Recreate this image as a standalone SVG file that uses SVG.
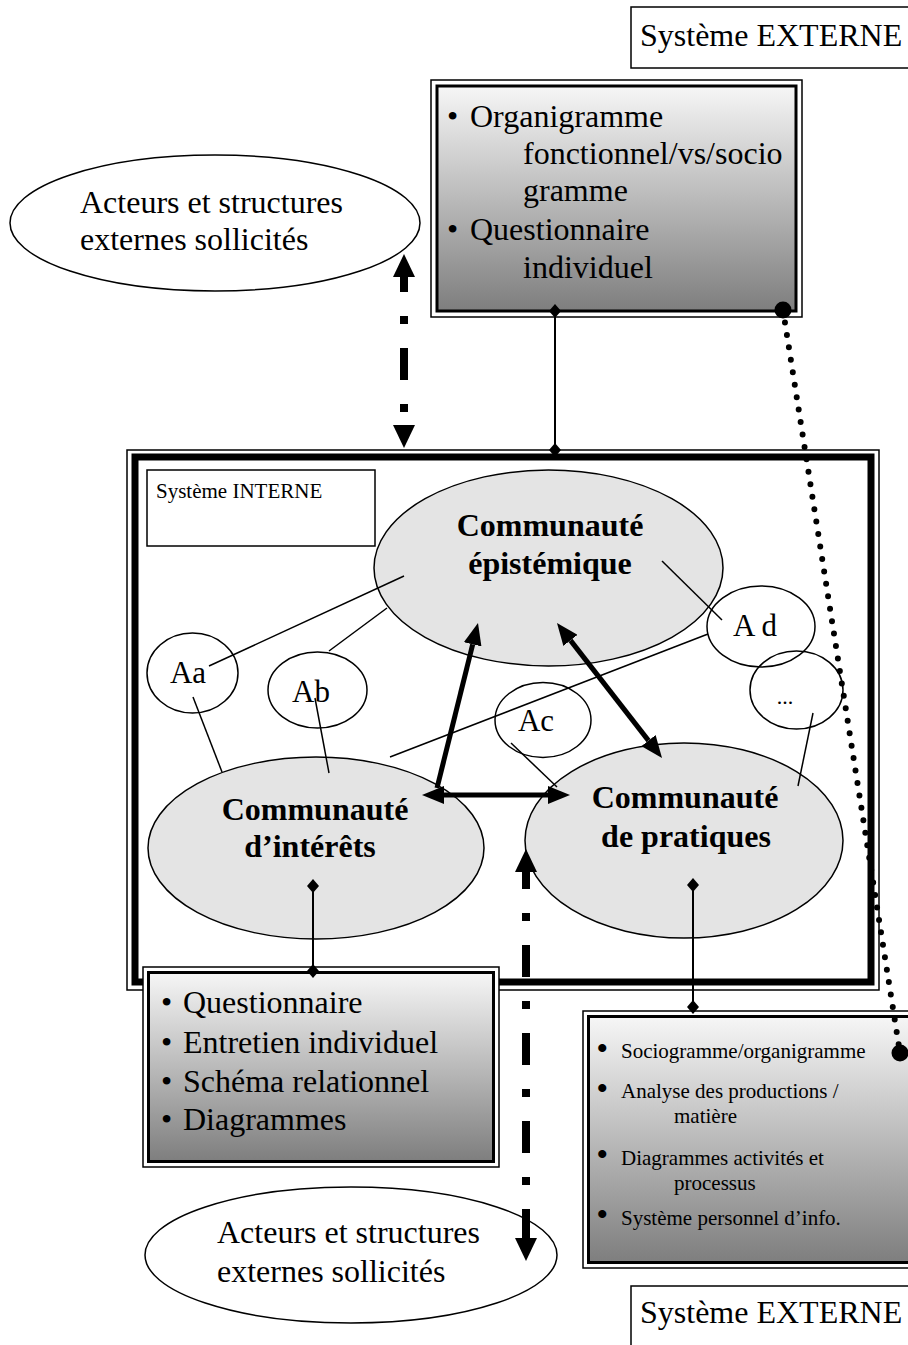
<svg xmlns="http://www.w3.org/2000/svg" width="908" height="1345" viewBox="0 0 908 1345">
<defs>
  <linearGradient id="grad" x1="0" y1="0" x2="0" y2="1">
    <stop offset="0" stop-color="#f6f6f6"/>
    <stop offset="1" stop-color="#7e7e7e"/>
  </linearGradient>
  <marker id="arrowThick" markerUnits="userSpaceOnUse" viewBox="0 0 22 18" markerWidth="22" markerHeight="18" refX="0" refY="9" orient="auto-start-reverse">
    <path d="M0,0 L22,9 L0,18 z" fill="#000"/>
  </marker>
  <marker id="arrowDash" markerUnits="userSpaceOnUse" viewBox="0 0 23 22" markerWidth="23" markerHeight="22" refX="0" refY="11" orient="auto-start-reverse">
    <path d="M0,0 L23,11 L0,22 z" fill="#000"/>
  </marker>
  <marker id="diamond" markerUnits="userSpaceOnUse" viewBox="0 0 14 14" markerWidth="14" markerHeight="14" refX="7" refY="7" orient="0">
    <path d="M7,0 L13,7 L7,14 L1,7 z" fill="#000"/>
  </marker>
  <marker id="bigdot" markerUnits="userSpaceOnUse" viewBox="0 0 18 18" markerWidth="18" markerHeight="18" refX="9" refY="9" orient="0">
    <circle cx="9" cy="9" r="8.5" fill="#000"/>
  </marker>
</defs>
<style>
  text { font-family: "Liberation Serif", "Times New Roman", serif; fill: #000; }
  .t32 { font-size: 32px; }
  .b32 { font-size: 32px; font-weight: bold; }
  .t31 { font-size: 31px; }
  .t21 { font-size: 21px; }
  .t22 { font-size: 22px; }
  .bul { font-size: 30px; font-weight: bold; }
  .label { fill: #fff; stroke: #000; stroke-width: 1.5; }
  .comm { fill: #e4e4e4; stroke: #000; stroke-width: 1.5; }
  .actor { fill: none; stroke: #000; stroke-width: 1.5; }
  .ext { fill: #fff; stroke: #000; stroke-width: 1.5; }
  .outer { fill: #fff; stroke: #000; stroke-width: 1.5; }
  .inner { fill: url(#grad); stroke: #000; stroke-width: 3; }
  .thin { fill: none; stroke: #000; stroke-width: 1.5; }
  .thick { fill: none; stroke: #000; stroke-width: 5; marker-start: url(#arrowThick); marker-end: url(#arrowThick); }
  .thick1 { fill: none; stroke: #000; stroke-width: 5; marker-end: url(#arrowThick); }
  .dash { fill: none; stroke: #000; stroke-width: 8; stroke-dasharray: 32 24 8 24; marker-start: url(#arrowDash); marker-end: url(#arrowDash); }
  .link { fill: none; stroke: #000; stroke-width: 2; marker-start: url(#diamond); marker-end: url(#diamond); }
  .dots { fill: none; stroke: #000; stroke-width: 6; stroke-linecap: round; stroke-dasharray: 0 12.6; marker-start: url(#bigdot); marker-end: url(#bigdot); }
</style>
<rect x="0" y="0" width="908" height="1345" fill="#fff"/>

<g id="systeme-externe-haut">
  <rect class="label" x="631" y="7" width="290" height="61"/>
  <text class="t32" x="640" y="46">Système EXTERNE</text>
</g>

<g id="systeme-externe-bas">
  <rect class="label" x="631" y="1286" width="290" height="80"/>
  <text class="t32" x="640" y="1323">Système EXTERNE</text>
</g>

<g id="acteurs-externes-haut">
  <ellipse class="ext" cx="215" cy="223" rx="205" ry="68"/>
  <text class="t32" x="80" y="213">Acteurs et structures</text>
  <text class="t32" x="80" y="250">externes sollicités</text>
</g>

<g id="methodes-externes">
  <rect class="outer" x="431" y="80" width="371" height="237"/>
  <rect class="inner" x="437" y="86" width="359" height="225"/>
  <text class="t32" x="447" y="127">•</text>
  <text class="t32" x="470" y="127">Organigramme</text>
  <text class="t32" x="523" y="164">fonctionnel/vs/socio</text>
  <text class="t32" x="523" y="201">gramme</text>
  <text class="t32" x="447" y="240">•</text>
  <text class="t32" x="470" y="240">Questionnaire</text>
  <text class="t32" x="523" y="278">individuel</text>
</g>

<g id="systeme-interne">
  <rect fill="none" stroke="#000" stroke-width="1.5" x="127" y="450" width="752" height="540"/>
  <rect fill="none" stroke="#000" stroke-width="7" x="135" y="457" width="736" height="525"/>
  <rect class="label" x="147" y="470" width="228" height="76"/>
  <text class="t21" x="156" y="498">Système INTERNE</text>
</g>

<g id="communaute-epistemique">
  <ellipse class="comm" cx="548.5" cy="568" rx="174.5" ry="98"/>
  <text class="b32" x="550" y="536" text-anchor="middle">Communauté</text>
  <text class="b32" x="550" y="574" text-anchor="middle">épistémique</text>
</g>

<g id="communaute-interets">
  <ellipse class="comm" cx="316" cy="848" rx="168" ry="91"/>
  <text class="b32" x="315" y="820" text-anchor="middle">Communauté</text>
  <text class="b32" x="310" y="857" text-anchor="middle">d’intérêts</text>
</g>

<g id="communaute-pratiques">
  <ellipse class="comm" cx="684" cy="840.5" rx="159" ry="97.5"/>
  <text class="b32" x="685" y="808" text-anchor="middle">Communauté</text>
  <text class="b32" x="686" y="847" text-anchor="middle">de pratiques</text>
</g>

<g id="acteur-aa">
  <ellipse class="actor" cx="192.5" cy="673" rx="45.5" ry="40"/>
  <text class="t31" x="188" y="683" text-anchor="middle">Aa</text>
</g>
<g id="acteur-ab">
  <ellipse class="actor" cx="317.5" cy="690" rx="49.5" ry="38"/>
  <text class="t31" x="311" y="702" text-anchor="middle">Ab</text>
</g>
<g id="acteur-ac">
  <ellipse class="actor" cx="543" cy="720" rx="48" ry="37.5"/>
  <text class="t31" x="536" y="731" text-anchor="middle">Ac</text>
</g>
<g id="acteur-ad">
  <ellipse class="actor" cx="761" cy="626.5" rx="54" ry="40.5"/>
  <text class="t31" x="755" y="636" text-anchor="middle">A d</text>
</g>
<g id="acteur-autres">
  <ellipse class="actor" cx="796.5" cy="690" rx="46.5" ry="39"/>
  <text class="t22" x="785" y="704" text-anchor="middle">...</text>
</g>

<g id="methodes-interets">
  <rect class="outer" x="143" y="967" width="356" height="200"/>
  <rect class="inner" x="148.5" y="972.5" width="345" height="189"/>
  <text class="t32" x="161" y="1013">•</text>
  <text class="t32" x="183" y="1013">Questionnaire</text>
  <text class="t32" x="161" y="1053">•</text>
  <text class="t32" x="183" y="1053">Entretien individuel</text>
  <text class="t32" x="161" y="1092">•</text>
  <text class="t32" x="183" y="1092">Schéma relationnel</text>
  <text class="t32" x="161" y="1130">•</text>
  <text class="t32" x="183" y="1130">Diagrammes</text>
</g>

<g id="methodes-pratiques">
  <rect class="outer" x="583" y="1011" width="340" height="257"/>
  <rect class="inner" x="588.5" y="1016.5" width="340" height="246"/>
  <text class="bul" x="597" y="1058">•</text>
  <text class="t21" x="621" y="1058">Sociogramme/organigramme</text>
  <text class="bul" x="597" y="1098">•</text>
  <text class="t21" x="621" y="1098">Analyse des productions /</text>
  <text class="t21" x="674" y="1123">matière</text>
  <text class="bul" x="597" y="1164">•</text>
  <text class="t21" x="621" y="1165">Diagrammes activités et</text>
  <text class="t21" x="674" y="1190">processus</text>
  <text class="bul" x="597" y="1224">•</text>
  <text class="t21" x="621" y="1225">Système personnel d’info.</text>
</g>

<g id="acteurs-externes-bas">
  <ellipse class="ext" cx="351" cy="1255" rx="206" ry="68"/>
  <text class="t32" x="217" y="1243">Acteurs et structures</text>
  <text class="t32" x="217" y="1282">externes sollicités</text>
</g>

<g id="connecteurs">
  <line class="thin" x1="404" y1="576" x2="209" y2="666"/>
  <line class="thin" x1="387" y1="608" x2="329" y2="651"/>
  <line class="thin" x1="193" y1="697" x2="222" y2="772"/>
  <line class="thin" x1="315" y1="698" x2="329" y2="773"/>
  <line class="thin" x1="390" y1="757" x2="708" y2="634"/>
  <line class="thin" x1="662" y1="561" x2="722" y2="620"/>
  <line class="thin" x1="511" y1="743" x2="557" y2="787"/>
  <line class="thin" x1="813" y1="713" x2="798" y2="786"/>

  <path class="thick1" d="M437,788 L472.7,644.3"/>
  <path class="thick" d="M444,795 L548,795"/>
  <path class="thick" d="M570.5,640.4 L648.5,740.6"/>

  <path class="dash" d="M404,277 L404,425" stroke-dashoffset="17"/>
  <path class="dash" d="M526,872 L526,1238" stroke-dashoffset="15"/>

  <path class="link" d="M555,311 L555,450"/>
  <path class="link" d="M313,886 L313,971"/>
  <path class="link" d="M693,885 L693,1007"/>

  <path class="dots" d="M783,310 L900,1053"/>
</g>
</svg>
